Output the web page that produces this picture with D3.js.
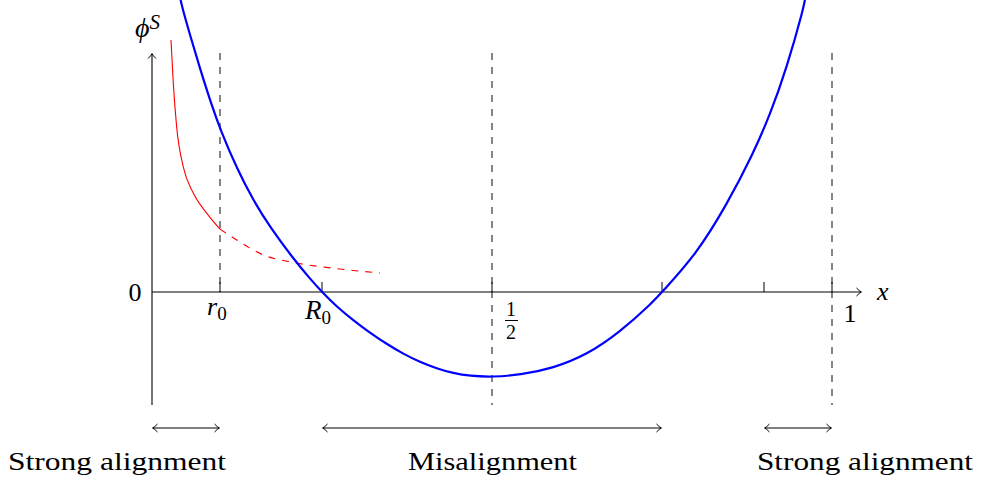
<!DOCTYPE html>
<html>
<head>
<meta charset="utf-8">
<script src="https://cdn.jsdelivr.net/npm/d3@7"></script>
<style>
  body { margin: 0; background: #fff; }
  svg { display: block; }
  text { font-family: "Liberation Serif", "Times New Roman", serif; fill: #000; }
</style>
</head>
<body>
<svg id="chart" width="981" height="478"></svg>
<script>
// potential phi^S (x in [0,1], arbitrary phi units)
const blueX = [0.041, 0.0437, 0.0559, 0.0706, 0.0878, 0.101, 0.1246, 0.149, 0.1735, 0.2078, 0.2324, 0.25,
  0.2716, 0.296, 0.3206, 0.3451, 0.3696, 0.3941, 0.4187, 0.4431, 0.4676, 0.5,
  0.5412, 0.5901, 0.6393, 0.6882, 0.7372, 0.75, 0.8, 0.8451, 0.8843, 0.9088, 0.9334, 0.9588, 0.961];
const blueY = [0.87, 0.842, 0.756, 0.657, 0.549, 0.475, 0.364, 0.269, 0.191, 0.098, 0.039, 0,
  -0.043, -0.083, -0.12, -0.153, -0.182, -0.206, -0.225, -0.239, -0.247, -0.25,
  -0.244, -0.224, -0.185, -0.118, -0.029, 0, 0.11, 0.256, 0.408, 0.521, 0.659, 0.839, 0.87];

// red curve: solid up to r0, dashed after
const redSolidX = [0.0279, 0.0313, 0.0363, 0.046, 0.0607, 0.0804, 0.1];
const redSolidY = [0.741, 0.615, 0.485, 0.368, 0.291, 0.232, 0.185];
const redDashX = [0.1, 0.1246, 0.1637, 0.2078, 0.2618, 0.3353];
const redDashY = [0.185, 0.153, 0.109, 0.087, 0.071, 0.056];

// ticks on the x axis
const tickX = [0.1, 0.25, 0.5, 0.75, 0.9, 1];
// dashed guide lines: x position and bottom in phi units
const guideX = [0.1, 0.5, 1];
const guideBottom = [0, -0.332, -0.332];

// region arrows below the plot
const regionStart = [0, 0.25, 0.9];
const regionEnd = [0.1, 0.75, 1];
const regionLabel = ['Strong alignment', 'Misalignment', 'Strong alignment'];
const regionLabelX = [117, 492.5, 865];
const regionLabelW = [218, 169, 216];

const svg = d3.select('#chart');

const x = d3.scaleLinear().domain([0, 1]).range([152, 832]);
const y = d3.scaleLinear().domain([0, 1]).range([292, -48]);

const zip = (xs, ys) => xs.map((v, i) => [v, ys[i]]);

// smooth B-spline through the read points
const smooth = d3.line()
  .x((d) => x(d[0]))
  .y((d) => y(d[1]))
  .curve(d3.curveBasis);

const redLine = d3.line()
  .x((d) => x(d[0]))
  .y((d) => y(d[1]))
  .curve(d3.curveMonotoneX);

svg.append('defs').append('marker')
  .attr('id', 'head')
  .attr('viewBox', '-6 -5 8 10')
  .attr('markerWidth', 8).attr('markerHeight', 10)
  .attr('markerUnits', 'userSpaceOnUse')
  .attr('orient', 'auto-start-reverse')
  .attr('refX', 0).attr('refY', 0)
  .append('path')
  .attr('d', 'M-4.5,-4 Q-1.5,-0.8 0.5,0 Q-1.5,0.8 -4.5,4')
  .attr('fill', 'none').attr('stroke', '#000').attr('stroke-width', 1);

// dashed guides
guideX.forEach((gx, i) => {
  svg.append('line')
    .attr('x1', x(gx)).attr('x2', x(gx))
    .attr('y1', 53).attr('y2', y(guideBottom[i]))
    .attr('stroke', '#222').attr('stroke-width', 1.1)
    .attr('stroke-dasharray', '7,7');
});

// axes
svg.append('line')
  .attr('x1', x(0)).attr('x2', x(0))
  .attr('y1', y(-0.332)).attr('y2', 54)
  .attr('stroke', '#000').attr('stroke-width', 1.1)
  .attr('marker-end', 'url(#head)');
svg.append('line')
  .attr('x1', x(0)).attr('x2', 861)
  .attr('y1', y(0)).attr('y2', y(0))
  .attr('stroke', '#000').attr('stroke-width', 1.1)
  .attr('marker-end', 'url(#head)');

svg.selectAll('.tick').data(tickX).enter().append('line')
  .attr('x1', (d) => x(d)).attr('x2', (d) => x(d))
  .attr('y1', y(0)).attr('y2', y(0) - 10)
  .attr('stroke', '#000').attr('stroke-width', 1);

// curves
svg.append('path')
  .attr('d', redLine(zip(redSolidX, redSolidY)))
  .attr('fill', 'none').attr('stroke', '#f00').attr('stroke-width', 1.1);
svg.append('path')
  .attr('d', redLine(zip(redDashX, redDashY)))
  .attr('fill', 'none').attr('stroke', '#f00').attr('stroke-width', 1.1)
  .attr('stroke-dasharray', '7,7');
svg.append('path')
  .attr('d', smooth(zip(blueX, blueY)))
  .attr('fill', 'none').attr('stroke', '#00f').attr('stroke-width', 2.2);

// axis labels
svg.append('text').attr('x', 135).attr('y', 301)
  .attr('text-anchor', 'middle').style('font-size', '26px').text('0');
svg.append('text').attr('x', 877).attr('y', 300)
  .style('font-size', '26px').style('font-style', 'italic').text('x');
svg.append('text').attr('x', 850).attr('y', 322)
  .attr('text-anchor', 'middle').style('font-size', '26px').text('1');

const r0 = svg.append('text').attr('x', 207).attr('y', 315).style('font-size', '26px');
r0.append('tspan').style('font-style', 'italic').text('r');
r0.append('tspan').attr('dy', 5).style('font-size', '19px').text('0');

const R0 = svg.append('text').attr('x', 305).attr('y', 319).style('font-size', '27px');
R0.append('tspan').style('font-style', 'italic').text('R');
R0.append('tspan').attr('dy', 5).style('font-size', '19px').text('0');

svg.append('text').attr('x', 511).attr('y', 316)
  .attr('text-anchor', 'middle').style('font-size', '20px').text('1');
svg.append('line').attr('x1', 505).attr('x2', 518).attr('y1', 320.5).attr('y2', 320.5)
  .attr('stroke', '#000').attr('stroke-width', 1);
svg.append('text').attr('x', 511).attr('y', 339)
  .attr('text-anchor', 'middle').style('font-size', '20px').text('2');

const phi = svg.append('text').attr('x', 135).attr('y', 37).style('font-size', '28px');
phi.append('tspan').style('font-style', 'italic').text('\u03d5');
phi.append('tspan').attr('dy', -8).style('font-size', '21px').style('font-style', 'italic').text('S');

// region arrows and labels
regionStart.forEach((s, i) => {
  svg.append('line')
    .attr('x1', x(s) + 1).attr('x2', x(regionEnd[i]) - 1)
    .attr('y1', 428).attr('y2', 428)
    .attr('stroke', '#000').attr('stroke-width', 1)
    .attr('marker-start', 'url(#head)').attr('marker-end', 'url(#head)');
  svg.append('text')
    .attr('x', regionLabelX[i] - regionLabelW[i] / 2).attr('y', 470)
    .attr('textLength', regionLabelW[i]).attr('lengthAdjust', 'spacingAndGlyphs')
    .style('font-size', '25px')
    .text(regionLabel[i]);
});
</script>
</body>
</html>
